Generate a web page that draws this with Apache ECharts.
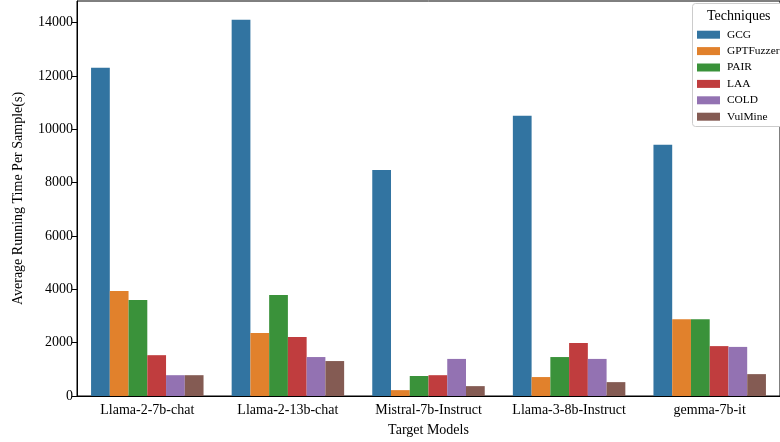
<!DOCTYPE html>
<html><head><meta charset="utf-8">
<script src="https://cdn.jsdelivr.net/npm/echarts@6/dist/echarts.min.js"></script>
<style>html,body{margin:0;padding:0;background:#fff}#c{width:780px;height:442px}</style>
</head><body><div id="c"></div>
<script>
const categories = ['Llama-2-7b-chat','Llama-2-13b-chat','Mistral-7b-Instruct','Llama-3-8b-Instruct','gemma-7b-it'];
const techniques = ['GCG','GPTFuzzer','PAIR','LAA','COLD','VulMine'];
const GCG = [12300, 14100, 8470, 10500, 9420];
const GPTFuzzer = [3940, 2360, 220, 710, 2880];
const PAIR = [3600, 3790, 750, 1460, 2880];
const LAA = [1530, 2210, 780, 1990, 1870];
const COLD = [780, 1460, 1390, 1390, 1840];
const VulMine = [780, 1310, 370, 520, 820];
const yTicks = [0, 2000, 4000, 6000, 8000, 10000, 12000, 14000];
const colors = ['#3274a1','#e1812c','#3a923a','#c03d3e','#9372b2','#845b53'];
const seriesData = [GCG, GPTFuzzer, PAIR, LAA, COLD, VulMine];

const font = 'Liberation Serif';
const chart = echarts.init(document.getElementById('c'));
chart.setOption({
  animation: false,
  textStyle: {fontFamily: font},
  grid: {left: 77, right: -12, top: 1, bottom: 46, show: true, borderColor: '#000', borderWidth: 1},
  xAxis: {
    type: 'category', data: categories,
    name: 'Target Models', nameLocation: 'middle', nameGap: 27,
    nameTextStyle: {fontFamily: font, fontSize: 14, color: '#000'},
    axisLine: {lineStyle: {color: '#000', width: 1}},
    axisTick: {alignWithLabel: true, length: 5, lineStyle: {color: '#000'}},
    axisLabel: {interval: 0, fontFamily: font, fontSize: 14, color: '#000', margin: 7}
  },
  yAxis: {
    type: 'value', min: 0, max: 14805,
    name: 'Average Running Time Per Sample(s)', nameLocation: 'middle', nameGap: 52,
    nameTextStyle: {fontFamily: font, fontSize: 14, color: '#000'},
    splitLine: {show: false},
    axisLine: {show: true, lineStyle: {color: '#000', width: 1}},
    axisTick: {show: true, length: 5, customValues: yTicks, lineStyle: {color: '#000'}},
    axisLabel: {fontFamily: font, fontSize: 14, color: '#000', margin: 4, customValues: yTicks,
      formatter: v => String(v)}
  },
  legend: {
    orient: 'vertical', left: 697, top: 28.5, z: 20, width: 200, padding: 0,
    data: techniques,
    itemWidth: 23, itemHeight: 8, itemGap: 4,
    icon: 'rect',
    textStyle: {fontFamily: font, fontSize: 11.4, color: '#000', lineHeight: 12.4, overflow: 'none', width: 80, padding: [0,0,0,2]}
  },
  graphic: [
    {type: 'rect', left: 692, top: 3, shape: {width: 100, height: 123, r: 3},
     style: {fill: '#fff', stroke: '#ccc', lineWidth: 1}, z: 5},
    {type: 'text', left: 707, top: 9, style: {text: 'Techniques', font: '14px "Liberation Serif"', fill: '#000'}, z: 21}
  ],
  series: techniques.map((t, i) => ({
    name: t, type: 'bar', data: seriesData[i],
    barGap: '0%', barCategoryGap: '20%',
    itemStyle: {color: colors[i]}
  }))
});
</script></body></html>
